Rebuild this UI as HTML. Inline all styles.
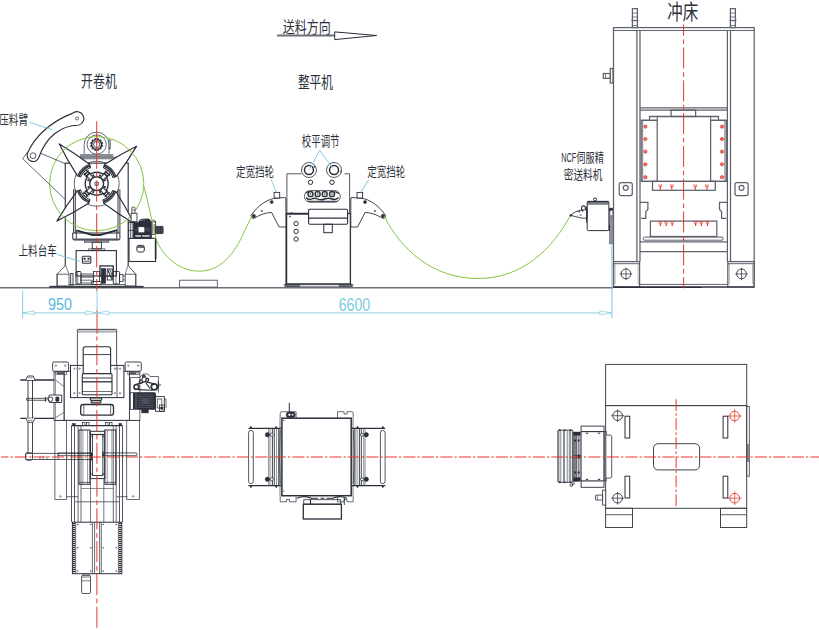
<!DOCTYPE html>
<html><head><meta charset="utf-8"><title>Feed line layout</title>
<style>html,body{margin:0;padding:0;background:#fff;font-family:"Liberation Sans",sans-serif}svg{display:block}</style>
</head><body>
<svg width="819" height="630" viewBox="0 0 819 630" style="display:block" fill="none" stroke-linecap="butt">
<rect width="819" height="630" fill="#fff"/>
<line x1="0.00" y1="287.80" x2="613.50" y2="287.80" stroke="#6b6f78" stroke-width="1.5" />
<rect x="49.50" y="286.00" width="94.00" height="1.60" rx="0" stroke="#2b2f3a" stroke-width="0.3" fill="#3d414b" />
<line x1="65.30" y1="163.10" x2="65.30" y2="266.00" stroke="#40454f" stroke-width="1.25" />
<line x1="128.20" y1="163.10" x2="128.20" y2="266.00" stroke="#40454f" stroke-width="1.25" />
<line x1="64.70" y1="163.10" x2="128.80" y2="163.10" stroke="#40454f" stroke-width="1.1" />
<path d="M65.30,265.70 L57.10,274.20 L57.10,286.00" stroke="#40454f" stroke-width="0.9" fill="none" />
<path d="M128.20,265.70 L135.80,274.20 L135.80,286.00" stroke="#40454f" stroke-width="0.9" fill="none" />
<rect x="57.10" y="274.20" width="11.90" height="11.80" rx="0" stroke="#40454f" stroke-width="0.8" fill="none" />
<rect x="125.20" y="274.20" width="10.60" height="11.80" rx="0" stroke="#40454f" stroke-width="0.8" fill="none" />
<line x1="65.80" y1="266.00" x2="69.00" y2="274.20" stroke="#40454f" stroke-width="0.7" />
<line x1="127.70" y1="266.00" x2="125.20" y2="274.20" stroke="#40454f" stroke-width="0.7" />
<path d="M84.2,154.3 V144.5 A12.4,12.4 0 0 1 109,144.5 V154.3" stroke="#40454f" stroke-width="0.8" fill="#fff" />
<rect x="109.00" y="140.00" width="1.60" height="9.00" rx="0" stroke="#40454f" stroke-width="0.6" fill="none" />
<circle cx="96.70" cy="144.50" r="9.60" stroke="#40454f" stroke-width="0.8" fill="none" />
<circle cx="96.60" cy="144.50" r="5.00" stroke="#2b2f3a" stroke-width="1.5" fill="none" />
<line x1="101.72" y1="145.87" x2="102.88" y2="146.18" stroke="#2b2f3a" stroke-width="1.7" />
<line x1="100.35" y1="148.25" x2="101.20" y2="149.10" stroke="#2b2f3a" stroke-width="1.7" />
<line x1="97.97" y1="149.62" x2="98.28" y2="150.78" stroke="#2b2f3a" stroke-width="1.7" />
<line x1="95.23" y1="149.62" x2="94.92" y2="150.78" stroke="#2b2f3a" stroke-width="1.7" />
<line x1="92.85" y1="148.25" x2="92.00" y2="149.10" stroke="#2b2f3a" stroke-width="1.7" />
<line x1="91.48" y1="145.87" x2="90.32" y2="146.18" stroke="#2b2f3a" stroke-width="1.7" />
<line x1="91.48" y1="143.13" x2="90.32" y2="142.82" stroke="#2b2f3a" stroke-width="1.7" />
<line x1="92.85" y1="140.75" x2="92.00" y2="139.90" stroke="#2b2f3a" stroke-width="1.7" />
<line x1="95.23" y1="139.38" x2="94.92" y2="138.22" stroke="#2b2f3a" stroke-width="1.7" />
<line x1="97.97" y1="139.38" x2="98.28" y2="138.22" stroke="#2b2f3a" stroke-width="1.7" />
<line x1="100.35" y1="140.75" x2="101.20" y2="139.90" stroke="#2b2f3a" stroke-width="1.7" />
<line x1="101.72" y1="143.13" x2="102.88" y2="142.82" stroke="#2b2f3a" stroke-width="1.7" />
<circle cx="96.60" cy="144.50" r="3.10" stroke="#2b2f3a" stroke-width="0.9" fill="none" />
<rect x="80.50" y="154.30" width="32.40" height="2.60" rx="0" stroke="#6f737c" stroke-width="0.5" fill="#8b8e96" />
<rect x="73.60" y="156.90" width="46.20" height="2.20" rx="0.8" stroke="#6f737c" stroke-width="0.5" fill="#8b8e96" />
<circle cx="96.70" cy="183.70" r="22.50" stroke="#40454f" stroke-width="0.8" fill="none" />
<circle cx="96.70" cy="183.70" r="11.50" stroke="#2b2f3a" stroke-width="1.4" fill="none" />
<circle cx="96.70" cy="183.70" r="6.90" stroke="#2b2f3a" stroke-width="1.4" fill="none" />
<circle cx="96.70" cy="183.70" r="2.00" stroke="#2b2f3a" stroke-width="0.8" fill="none" />
<circle cx="96.70" cy="183.70" r="0.70" stroke="#2b2f3a" stroke-width="0.5" fill="none" />
<rect x="103.73" y="186.17" width="2.2" height="1.8" fill="#2b2f3a" transform="rotate(22.5 104.83 187.07)"/>
<rect x="98.97" y="190.93" width="2.2" height="1.8" fill="#2b2f3a" transform="rotate(67.5 100.07 191.83)"/>
<rect x="92.23" y="190.93" width="2.2" height="1.8" fill="#2b2f3a" transform="rotate(112.5 93.33 191.83)"/>
<rect x="87.47" y="186.17" width="2.2" height="1.8" fill="#2b2f3a" transform="rotate(157.5 88.57 187.07)"/>
<rect x="87.47" y="179.43" width="2.2" height="1.8" fill="#2b2f3a" transform="rotate(202.5 88.57 180.33)"/>
<rect x="92.23" y="174.67" width="2.2" height="1.8" fill="#2b2f3a" transform="rotate(247.5 93.33 175.57)"/>
<rect x="98.97" y="174.67" width="2.2" height="1.8" fill="#2b2f3a" transform="rotate(292.5 100.07 175.57)"/>
<rect x="103.73" y="179.43" width="2.2" height="1.8" fill="#2b2f3a" transform="rotate(337.5 104.83 180.33)"/>
<g transform="rotate(0 96.7 183.7)">
<g transform="rotate(-44 96.7 183.7)">
<rect x="103.90" y="181.80" width="10.40" height="3.80" rx="0" stroke="#2b2f3a" stroke-width="1.0" fill="#fff" />
<line x1="109.30" y1="180.80" x2="109.30" y2="186.60" stroke="#2b2f3a" stroke-width="1.6" />
<line x1="111.70" y1="180.40" x2="111.70" y2="187.00" stroke="#2b2f3a" stroke-width="1.5" />
<rect x="108.70" y="180.70" width="1.4" height="1.4" fill="#2b2f3a"/><rect x="108.70" y="185.30" width="1.4" height="1.4" fill="#2b2f3a"/>
<path d="M115.61,175.28 Q133.70,178.90 151.29,184.46 Q133.66,189.27 115.61,192.12" stroke="#2b2f3a" stroke-width="1.2" fill="#fff" stroke-linejoin="round"/>
<path d="M112.72,176.90 A17.4,17.4 0 0 1 112.72,190.50 L115.61,192.12 A20.7,20.7 0 0 0 115.61,175.28 Z" stroke="#2b2f3a" stroke-width="1.0" fill="#fff" />
<path d="M114.24,175.89 A19.2,19.2 0 0 1 114.24,191.51" stroke="#2b2f3a" stroke-width="1.7" fill="none" />
</g></g>
<g transform="rotate(90 96.7 183.7)">
<g transform="rotate(-44 96.7 183.7)">
<rect x="103.90" y="181.80" width="10.40" height="3.80" rx="0" stroke="#2b2f3a" stroke-width="1.0" fill="#fff" />
<line x1="109.30" y1="180.80" x2="109.30" y2="186.60" stroke="#2b2f3a" stroke-width="1.6" />
<line x1="111.70" y1="180.40" x2="111.70" y2="187.00" stroke="#2b2f3a" stroke-width="1.5" />
<rect x="108.70" y="180.70" width="1.4" height="1.4" fill="#2b2f3a"/><rect x="108.70" y="185.30" width="1.4" height="1.4" fill="#2b2f3a"/>
<path d="M115.61,175.28 Q133.70,178.90 151.29,184.46 Q133.66,189.27 115.61,192.12" stroke="#2b2f3a" stroke-width="1.2" fill="#fff" stroke-linejoin="round"/>
<path d="M112.72,176.90 A17.4,17.4 0 0 1 112.72,190.50 L115.61,192.12 A20.7,20.7 0 0 0 115.61,175.28 Z" stroke="#2b2f3a" stroke-width="1.0" fill="#fff" />
<path d="M114.24,175.89 A19.2,19.2 0 0 1 114.24,191.51" stroke="#2b2f3a" stroke-width="1.7" fill="none" />
</g></g>
<g transform="rotate(180 96.7 183.7)">
<g transform="rotate(-44 96.7 183.7)">
<rect x="103.90" y="181.80" width="10.40" height="3.80" rx="0" stroke="#2b2f3a" stroke-width="1.0" fill="#fff" />
<line x1="109.30" y1="180.80" x2="109.30" y2="186.60" stroke="#2b2f3a" stroke-width="1.6" />
<line x1="111.70" y1="180.40" x2="111.70" y2="187.00" stroke="#2b2f3a" stroke-width="1.5" />
<rect x="108.70" y="180.70" width="1.4" height="1.4" fill="#2b2f3a"/><rect x="108.70" y="185.30" width="1.4" height="1.4" fill="#2b2f3a"/>
<path d="M115.61,175.28 Q133.70,178.90 151.29,184.46 Q133.66,189.27 115.61,192.12" stroke="#2b2f3a" stroke-width="1.2" fill="#fff" stroke-linejoin="round"/>
<path d="M112.72,176.90 A17.4,17.4 0 0 1 112.72,190.50 L115.61,192.12 A20.7,20.7 0 0 0 115.61,175.28 Z" stroke="#2b2f3a" stroke-width="1.0" fill="#fff" />
<path d="M114.24,175.89 A19.2,19.2 0 0 1 114.24,191.51" stroke="#2b2f3a" stroke-width="1.7" fill="none" />
</g></g>
<g transform="rotate(270 96.7 183.7)">
<g transform="rotate(-44 96.7 183.7)">
<rect x="103.90" y="181.80" width="10.40" height="3.80" rx="0" stroke="#2b2f3a" stroke-width="1.0" fill="#fff" />
<line x1="109.30" y1="180.80" x2="109.30" y2="186.60" stroke="#2b2f3a" stroke-width="1.6" />
<line x1="111.70" y1="180.40" x2="111.70" y2="187.00" stroke="#2b2f3a" stroke-width="1.5" />
<rect x="108.70" y="180.70" width="1.4" height="1.4" fill="#2b2f3a"/><rect x="108.70" y="185.30" width="1.4" height="1.4" fill="#2b2f3a"/>
<path d="M115.61,175.28 Q133.70,178.90 151.29,184.46 Q133.66,189.27 115.61,192.12" stroke="#2b2f3a" stroke-width="1.2" fill="#fff" stroke-linejoin="round"/>
<path d="M112.72,176.90 A17.4,17.4 0 0 1 112.72,190.50 L115.61,192.12 A20.7,20.7 0 0 0 115.61,175.28 Z" stroke="#2b2f3a" stroke-width="1.0" fill="#fff" />
<path d="M114.24,175.89 A19.2,19.2 0 0 1 114.24,191.51" stroke="#2b2f3a" stroke-width="1.7" fill="none" />
</g></g>
<line x1="73.60" y1="189.30" x2="73.60" y2="233.00" stroke="#2b2f3a" stroke-width="0.95" />
<line x1="75.30" y1="189.30" x2="75.30" y2="233.00" stroke="#2b2f3a" stroke-width="0.95" />
<line x1="118.00" y1="189.30" x2="118.00" y2="233.00" stroke="#2b2f3a" stroke-width="0.95" />
<line x1="119.90" y1="189.30" x2="119.90" y2="233.00" stroke="#2b2f3a" stroke-width="0.95" />
<path d="M76.30,230.40 L92.50,234.90 L100.10,234.90 L117.20,230.10" stroke="#2b2f3a" stroke-width="2.0" fill="none" stroke-linejoin="miter"/>
<path d="M72.7,233 V238.5 Q72.7,240 74.2,240 H118.4 Q119.9,240 119.9,238.5 V233 Z" stroke="#2b2f3a" stroke-width="1.0" fill="none" />
<line x1="73.00" y1="239.30" x2="119.60" y2="239.30" stroke="#50545e" stroke-width="1.4" />
<line x1="76.30" y1="231.00" x2="76.30" y2="238.60" stroke="#2b2f3a" stroke-width="0.9" />
<line x1="116.80" y1="231.00" x2="116.80" y2="238.60" stroke="#2b2f3a" stroke-width="0.9" />
<rect x="84.40" y="241.00" width="24.30" height="1.20" rx="0" stroke="#2b2f3a" stroke-width="0.7" fill="none" />
<rect x="92.20" y="242.20" width="9.20" height="6.70" rx="0" stroke="#2b2f3a" stroke-width="0.9" fill="none" />
<rect x="88.70" y="248.90" width="16.20" height="1.50" rx="0" stroke="#2b2f3a" stroke-width="0.7" fill="none" />
<rect x="76.10" y="250.60" width="40.30" height="25.40" rx="0" stroke="#2b2f3a" stroke-width="1.1" fill="none" />
<rect x="82.40" y="256.20" width="8.40" height="7.00" rx="1" stroke="#2b2f3a" stroke-width="1.1" fill="none" />
<rect x="83.90" y="258.00" width="1.50" height="1.50" rx="0" stroke="#2b2f3a" stroke-width="0.5" fill="#2b2f3a" />
<rect x="87.80" y="258.00" width="1.50" height="1.50" rx="0" stroke="#2b2f3a" stroke-width="0.5" fill="#2b2f3a" />
<line x1="83.40" y1="261.20" x2="89.80" y2="261.20" stroke="#2b2f3a" stroke-width="0.8" />
<line x1="69.00" y1="284.60" x2="125.20" y2="284.60" stroke="#2b2f3a" stroke-width="0.8" />
<rect x="70.70" y="273.50" width="2.30" height="11.50" rx="0" stroke="#2b2f3a" stroke-width="0.9" fill="none" />
<rect x="76.00" y="271.50" width="5.00" height="12.50" rx="1" stroke="#2b2f3a" stroke-width="1.0" fill="none" />
<line x1="77.70" y1="271.50" x2="77.70" y2="284.00" stroke="#2b2f3a" stroke-width="0.6" />
<rect x="81.00" y="274.00" width="12.50" height="9.00" rx="0" stroke="#2b2f3a" stroke-width="0.8" fill="none" />
<line x1="81.00" y1="277.20" x2="93.50" y2="277.20" stroke="#2b2f3a" stroke-width="0.7" />
<line x1="81.00" y1="280.20" x2="93.50" y2="280.20" stroke="#2b2f3a" stroke-width="0.7" />
<rect x="93.50" y="271.50" width="6.00" height="10.00" rx="0" stroke="#2b2f3a" stroke-width="0.8" fill="none" />
<rect x="91.50" y="281.50" width="9.50" height="3.10" rx="0" stroke="#2b2f3a" stroke-width="0.7" fill="none" />
<rect x="100.00" y="265.90" width="13.30" height="10.10" rx="0" stroke="#2b2f3a" stroke-width="1.3" fill="#fff" />
<rect x="101.40" y="268.50" width="4.20" height="14.80" rx="0" stroke="#2b2f3a" stroke-width="0.6" fill="#2b2f3a" />
<rect x="107.20" y="269.00" width="5.10" height="11.00" rx="0" stroke="#2b2f3a" stroke-width="0.9" fill="none" />
<line x1="107.60" y1="269.50" x2="112.00" y2="279.50" stroke="#2b2f3a" stroke-width="1.1" />
<line x1="109.50" y1="269.30" x2="112.20" y2="275.00" stroke="#2b2f3a" stroke-width="0.8" />
<rect x="113.30" y="271.50" width="6.30" height="12.50" rx="1" stroke="#2b2f3a" stroke-width="1.0" fill="none" />
<line x1="116.00" y1="271.50" x2="116.00" y2="284.00" stroke="#2b2f3a" stroke-width="0.6" />
<rect x="119.60" y="274.50" width="3.40" height="7.00" rx="0" stroke="#2b2f3a" stroke-width="0.8" fill="none" />
<line x1="123.00" y1="276.00" x2="125.20" y2="276.00" stroke="#2b2f3a" stroke-width="0.7" />
<line x1="123.00" y1="280.00" x2="125.20" y2="280.00" stroke="#2b2f3a" stroke-width="0.7" />
<circle cx="96.70" cy="183.70" r="47.10" stroke="#86c540" stroke-width="1.0" fill="none" />
<path d="M39.60,152.80 L65.00,163.60" stroke="#40454f" stroke-width="0.8" fill="none" />
<path d="M28.20,151.20 L22.70,158.70 L65.00,199.20" stroke="#40454f" stroke-width="0.8" fill="none" />
<path d="M27.5,153.4 C34,137 51,121.5 72.3,113.4 A6.9,6.9 0 1 1 78.2,125.3 C61.5,125.5 46,136 38.8,157.6 A5.9,5.9 0 0 1 27.5,153.4 Z" stroke="#2b2f3a" stroke-width="1.15" fill="#fff" />
<circle cx="33.00" cy="155.70" r="2.90" stroke="#2b2f3a" stroke-width="0.8" fill="none" />
<circle cx="77.00" cy="118.50" r="1.50" stroke="#2b2f3a" stroke-width="0.7" fill="none" />
<rect x="129.00" y="238.30" width="26.60" height="23.20" rx="0" stroke="#2b2f3a" stroke-width="1.1" fill="#fff" />
<rect x="136.90" y="245.40" width="7.40" height="6.60" rx="1.8" stroke="#2b2f3a" stroke-width="1.0" fill="none" />
<line x1="137.20" y1="247.00" x2="144.00" y2="247.00" stroke="#2b2f3a" stroke-width="1.4" />
<line x1="155.60" y1="240.00" x2="155.60" y2="259.00" stroke="#2b2f3a" stroke-width="1.6" />
<rect x="128.60" y="222.50" width="5.20" height="15.80" rx="0" stroke="#2b2f3a" stroke-width="0.9" fill="#fff" />
<line x1="130.40" y1="222.50" x2="130.40" y2="238.30" stroke="#2b2f3a" stroke-width="0.7" />
<line x1="132.20" y1="222.50" x2="132.20" y2="238.30" stroke="#2b2f3a" stroke-width="0.7" />
<line x1="128.60" y1="230.50" x2="133.80" y2="230.50" stroke="#2b2f3a" stroke-width="0.7" />
<rect x="133.80" y="222.50" width="17.50" height="11.40" rx="0" stroke="#2b2f3a" stroke-width="0.8" fill="#2b2f3a" />
<rect x="138.80" y="227.10" width="5.30" height="5.00" rx="0" stroke="#fff" stroke-width="0.3" fill="#fff" />
<line x1="135.00" y1="228.30" x2="138.00" y2="228.30" stroke="#7a7e88" stroke-width="0.35" />
<line x1="145.00" y1="228.30" x2="150.30" y2="228.30" stroke="#7a7e88" stroke-width="0.35" />
<line x1="135.00" y1="229.60" x2="138.00" y2="229.60" stroke="#7a7e88" stroke-width="0.35" />
<line x1="145.00" y1="229.60" x2="150.30" y2="229.60" stroke="#7a7e88" stroke-width="0.35" />
<line x1="135.00" y1="230.90" x2="138.00" y2="230.90" stroke="#7a7e88" stroke-width="0.35" />
<line x1="145.00" y1="230.90" x2="150.30" y2="230.90" stroke="#7a7e88" stroke-width="0.35" />
<rect x="133.80" y="233.90" width="17.50" height="4.30" rx="0" stroke="#2b2f3a" stroke-width="0.9" fill="#2b2f3a" />
<rect x="135.50" y="235.30" width="5.50" height="1.30" rx="0" stroke="#fff" stroke-width="0.2" fill="#d8d9dc" />
<rect x="142.50" y="235.30" width="7.00" height="1.30" rx="0" stroke="#fff" stroke-width="0.2" fill="#d8d9dc" />
<path d="M138.4,222.5 Q139.5,219 143,219 H148.5 Q150.6,219.4 150.6,222.5 Z" stroke="#2b2f3a" stroke-width="0.8" fill="#2b2f3a" />
<line x1="140.00" y1="220.60" x2="145.00" y2="219.60" stroke="#ccc" stroke-width="0.5" />
<rect x="151.30" y="221.50" width="4.30" height="12.80" rx="0" stroke="#2b2f3a" stroke-width="0.9" fill="#fff" />
<circle cx="153.50" cy="221.20" r="1.10" stroke="#2b2f3a" stroke-width="0.8" fill="#fff" />
<line x1="152.60" y1="224.00" x2="152.60" y2="233.50" stroke="#2b2f3a" stroke-width="0.6" />
<line x1="154.20" y1="224.00" x2="154.20" y2="233.50" stroke="#2b2f3a" stroke-width="0.6" />
<rect x="155.60" y="226.40" width="7.50" height="7.20" rx="0.8" stroke="#2b2f3a" stroke-width="0.9" fill="#50545e" />
<line x1="157.30" y1="226.60" x2="157.30" y2="233.40" stroke="#2b2f3a" stroke-width="0.7" />
<line x1="158.90" y1="226.60" x2="158.90" y2="233.40" stroke="#2b2f3a" stroke-width="0.7" />
<line x1="160.50" y1="226.60" x2="160.50" y2="233.40" stroke="#2b2f3a" stroke-width="0.7" />
<line x1="161.90" y1="226.60" x2="161.90" y2="233.40" stroke="#2b2f3a" stroke-width="0.7" />
<rect x="131.10" y="213.20" width="5.90" height="8.40" rx="0" stroke="#2b2f3a" stroke-width="0.8" fill="#fff" />
<rect x="131.80" y="207.10" width="3.20" height="6.10" rx="0.8" stroke="#2b2f3a" stroke-width="0.8" fill="#fff" />
<line x1="132.20" y1="210.00" x2="134.60" y2="210.00" stroke="#2b2f3a" stroke-width="0.7" />
<rect x="77.40" y="329.40" width="39.20" height="2.70" rx="0.8" stroke="#40454f" stroke-width="0.5" fill="#cfd0d3" />
<path d="M77.4,365.4 V330.4 Q77.4,329.4 78.4,329.4 H115.6 Q116.6,329.4 116.6,330.4 V365.4" stroke="#40454f" stroke-width="0.9" fill="none" />
<rect x="64.00" y="371.50" width="65.40" height="48.90" rx="0" stroke="#40454f" stroke-width="0.9" fill="none" />
<rect x="70.50" y="365.40" width="53.40" height="32.20" rx="0" stroke="#2b2f3a" stroke-width="1.0" fill="#fff" />
<line x1="77.40" y1="365.40" x2="77.40" y2="397.60" stroke="#2b2f3a" stroke-width="0.8" />
<line x1="117.00" y1="365.40" x2="117.00" y2="397.60" stroke="#2b2f3a" stroke-width="0.8" />
<circle cx="74.40" cy="368.70" r="0.75" stroke="#2b2f3a" stroke-width="0.5" fill="#fff" />
<circle cx="77.40" cy="368.70" r="0.75" stroke="#2b2f3a" stroke-width="0.5" fill="#fff" />
<circle cx="79.60" cy="368.70" r="0.75" stroke="#2b2f3a" stroke-width="0.5" fill="#fff" />
<circle cx="74.40" cy="393.20" r="0.75" stroke="#2b2f3a" stroke-width="0.5" fill="#fff" />
<circle cx="79.60" cy="393.20" r="0.75" stroke="#2b2f3a" stroke-width="0.5" fill="#fff" />
<circle cx="114.80" cy="368.70" r="0.75" stroke="#2b2f3a" stroke-width="0.5" fill="#fff" />
<circle cx="117.00" cy="368.70" r="0.75" stroke="#2b2f3a" stroke-width="0.5" fill="#fff" />
<circle cx="120.00" cy="368.70" r="0.75" stroke="#2b2f3a" stroke-width="0.5" fill="#fff" />
<circle cx="114.80" cy="393.20" r="0.75" stroke="#2b2f3a" stroke-width="0.5" fill="#fff" />
<circle cx="120.00" cy="393.20" r="0.75" stroke="#2b2f3a" stroke-width="0.5" fill="#fff" />
<path d="M83.2,373.6 V349 Q83.2,346.8 85.4,346.8 H108.4 Q110.6,346.8 110.6,349 V373.6" stroke="#2b2f3a" stroke-width="1.1" fill="#fff" />
<line x1="83.20" y1="354.60" x2="110.60" y2="354.60" stroke="#2b2f3a" stroke-width="0.9" />
<rect x="82.30" y="373.60" width="29.70" height="21.10" rx="1" stroke="#2b2f3a" stroke-width="1.1" fill="#fff" />
<line x1="82.30" y1="378.00" x2="112.00" y2="378.00" stroke="#2b2f3a" stroke-width="0.9" />
<line x1="82.30" y1="381.80" x2="112.00" y2="381.80" stroke="#2b2f3a" stroke-width="1.3" />
<line x1="82.30" y1="391.50" x2="112.00" y2="391.50" stroke="#2b2f3a" stroke-width="0.7" />
<rect x="52.60" y="362.00" width="16.00" height="9.30" rx="1.5" stroke="#2b2f3a" stroke-width="0.9" fill="none" />
<circle cx="55.80" cy="365.60" r="0.80" stroke="#2b2f3a" stroke-width="0.5" fill="#fff" />
<circle cx="65.40" cy="365.60" r="0.80" stroke="#2b2f3a" stroke-width="0.5" fill="#fff" />
<rect x="55.20" y="371.30" width="11.20" height="3.30" rx="0" stroke="#40454f" stroke-width="0.7" fill="none" />
<line x1="56.90" y1="373.20" x2="63.70" y2="373.20" stroke="#2b2f3a" stroke-width="1.3" />
<rect x="125.20" y="362.00" width="16.10" height="9.30" rx="1.5" stroke="#2b2f3a" stroke-width="0.9" fill="none" />
<circle cx="128.40" cy="365.60" r="0.80" stroke="#2b2f3a" stroke-width="0.5" fill="#fff" />
<circle cx="138.10" cy="365.60" r="0.80" stroke="#2b2f3a" stroke-width="0.5" fill="#fff" />
<rect x="127.80" y="371.30" width="11.30" height="3.30" rx="0" stroke="#40454f" stroke-width="0.7" fill="none" />
<line x1="129.50" y1="373.20" x2="136.40" y2="373.20" stroke="#2b2f3a" stroke-width="1.3" />
<rect x="90.20" y="398.00" width="11.60" height="2.20" rx="1" stroke="#2b2f3a" stroke-width="1.1" fill="none" />
<rect x="91.20" y="400.60" width="9.60" height="2.30" rx="1" stroke="#2b2f3a" stroke-width="1.1" fill="none" />
<line x1="93.00" y1="397.60" x2="93.00" y2="398.00" stroke="#2b2f3a" stroke-width="0.8" />
<rect x="80.70" y="404.50" width="32.80" height="10.70" rx="2.5" stroke="#2b2f3a" stroke-width="1.3" fill="none" />
<line x1="83.80" y1="405.00" x2="83.80" y2="414.70" stroke="#2b2f3a" stroke-width="0.7" />
<line x1="110.60" y1="405.00" x2="110.60" y2="414.70" stroke="#2b2f3a" stroke-width="0.7" />
<rect x="54.00" y="372.20" width="10.30" height="48.20" rx="0" stroke="#40454f" stroke-width="0.8" fill="none" />
<line x1="55.40" y1="374.60" x2="55.40" y2="420.40" stroke="#40454f" stroke-width="0.6" />
<path d="M55.40,380.00 L64.30,386.90" stroke="#40454f" stroke-width="0.7" fill="none" />
<path d="M55.40,418.00 L62.70,413.00 L64.30,413.00" stroke="#40454f" stroke-width="0.7" fill="none" />
<rect x="129.50" y="372.20" width="10.40" height="48.20" rx="0" stroke="#40454f" stroke-width="0.8" fill="none" />
<rect x="54.90" y="420.40" width="11.50" height="79.00" rx="0" stroke="#40454f" stroke-width="0.8" fill="none" />
<rect x="126.70" y="420.40" width="12.70" height="79.00" rx="0" stroke="#40454f" stroke-width="0.8" fill="none" />
<line x1="54.20" y1="420.40" x2="139.70" y2="420.40" stroke="#40454f" stroke-width="0.9" />
<circle cx="60.40" cy="496.40" r="0.80" stroke="#2b2f3a" stroke-width="0.5" fill="none" />
<circle cx="133.20" cy="496.40" r="0.80" stroke="#2b2f3a" stroke-width="0.5" fill="none" />
<line x1="71.50" y1="425.60" x2="71.50" y2="522.00" stroke="#2b2f3a" stroke-width="0.8" />
<line x1="74.50" y1="425.60" x2="74.50" y2="522.00" stroke="#2b2f3a" stroke-width="0.8" />
<line x1="119.50" y1="425.60" x2="119.50" y2="522.00" stroke="#2b2f3a" stroke-width="0.8" />
<line x1="122.50" y1="425.60" x2="122.50" y2="522.00" stroke="#2b2f3a" stroke-width="0.8" />
<line x1="78.10" y1="425.60" x2="78.10" y2="522.00" stroke="#40454f" stroke-width="0.8" />
<line x1="81.00" y1="425.60" x2="81.00" y2="522.00" stroke="#40454f" stroke-width="0.8" />
<line x1="113.30" y1="425.60" x2="113.30" y2="522.00" stroke="#40454f" stroke-width="0.8" />
<line x1="116.20" y1="425.60" x2="116.20" y2="522.00" stroke="#40454f" stroke-width="0.8" />
<line x1="71.50" y1="425.60" x2="122.50" y2="425.60" stroke="#2b2f3a" stroke-width="1.2" />
<rect x="72.60" y="423.40" width="2.60" height="2.20" rx="0" stroke="#2b2f3a" stroke-width="0.5" fill="#2b2f3a" />
<rect x="119.00" y="423.40" width="2.60" height="2.20" rx="0" stroke="#2b2f3a" stroke-width="0.5" fill="#2b2f3a" />
<rect x="82.50" y="422.60" width="2.50" height="3.00" rx="0" stroke="#2b2f3a" stroke-width="0.7" fill="none" />
<rect x="86.50" y="422.60" width="2.50" height="3.00" rx="0" stroke="#2b2f3a" stroke-width="0.7" fill="none" />
<rect x="105.50" y="422.60" width="2.50" height="3.00" rx="0" stroke="#2b2f3a" stroke-width="0.7" fill="none" />
<rect x="109.50" y="422.60" width="2.50" height="3.00" rx="0" stroke="#2b2f3a" stroke-width="0.7" fill="none" />
<rect x="79.00" y="430.00" width="10.90" height="54.30" rx="0" stroke="#2b2f3a" stroke-width="1.0" fill="none" />
<rect x="104.80" y="430.00" width="11.00" height="54.30" rx="0" stroke="#2b2f3a" stroke-width="1.0" fill="none" />
<line x1="82.90" y1="430.00" x2="82.90" y2="484.30" stroke="#40454f" stroke-width="0.55" />
<line x1="87.60" y1="430.00" x2="87.60" y2="484.30" stroke="#40454f" stroke-width="0.55" />
<line x1="107.20" y1="430.00" x2="107.20" y2="484.30" stroke="#40454f" stroke-width="0.55" />
<line x1="111.90" y1="430.00" x2="111.90" y2="484.30" stroke="#40454f" stroke-width="0.55" />
<line x1="79.00" y1="482.40" x2="89.90" y2="482.40" stroke="#2b2f3a" stroke-width="0.7" />
<line x1="104.80" y1="482.40" x2="115.80" y2="482.40" stroke="#2b2f3a" stroke-width="0.7" />
<rect x="90.50" y="431.30" width="14.30" height="47.30" rx="0" stroke="#2b2f3a" stroke-width="1.0" fill="none" />
<rect x="92.40" y="434.50" width="10.50" height="41.00" rx="0" stroke="#2b2f3a" stroke-width="0.9" fill="none" />
<line x1="90.50" y1="434.50" x2="104.80" y2="434.50" stroke="#2b2f3a" stroke-width="1.2" />
<rect x="91.6" y="435.7" width="1.4" height="1.6" fill="#2b2f3a"/><rect x="102.3" y="435.7" width="1.4" height="1.6" fill="#2b2f3a"/>
<rect x="91.6" y="454.2" width="1.4" height="1.6" fill="#2b2f3a"/><rect x="102.3" y="454.2" width="1.4" height="1.6" fill="#2b2f3a"/>
<rect x="91.6" y="473.2" width="1.4" height="1.6" fill="#2b2f3a"/><rect x="102.3" y="473.2" width="1.4" height="1.6" fill="#2b2f3a"/>
<line x1="90.50" y1="478.60" x2="90.50" y2="522.00" stroke="#40454f" stroke-width="0.7" />
<line x1="103.80" y1="478.60" x2="103.80" y2="522.00" stroke="#40454f" stroke-width="0.7" />
<line x1="66.70" y1="496.70" x2="78.10" y2="496.70" stroke="#40454f" stroke-width="0.8" />
<line x1="116.20" y1="496.70" x2="127.60" y2="496.70" stroke="#40454f" stroke-width="0.8" />
<line x1="75.20" y1="501.80" x2="119.00" y2="501.80" stroke="#40454f" stroke-width="0.8" />
<line x1="81.00" y1="488.50" x2="113.30" y2="488.50" stroke="#40454f" stroke-width="0.6" />
<line x1="20.30" y1="380.00" x2="54.20" y2="380.00" stroke="#2b2f3a" stroke-width="1.3" />
<line x1="20.30" y1="418.30" x2="54.20" y2="418.30" stroke="#2b2f3a" stroke-width="1.3" />
<path d="M25.80,380.00 L27.60,376.00 L33.20,376.00 L35.00,380.00" stroke="#2b2f3a" stroke-width="0.9" fill="#fff" />
<line x1="28.00" y1="377.80" x2="32.50" y2="377.80" stroke="#40454f" stroke-width="0.6" />
<path d="M25.80,418.30 L27.80,422.30 L33.00,422.30 L35.00,418.30" stroke="#2b2f3a" stroke-width="0.9" fill="#fff" />
<line x1="28.00" y1="420.40" x2="32.50" y2="420.40" stroke="#40454f" stroke-width="0.6" />
<line x1="28.00" y1="380.00" x2="28.00" y2="418.30" stroke="#2b2f3a" stroke-width="0.9" />
<line x1="32.50" y1="380.00" x2="32.50" y2="418.30" stroke="#2b2f3a" stroke-width="0.9" />
<line x1="28.00" y1="422.30" x2="28.00" y2="453.40" stroke="#2b2f3a" stroke-width="0.9" />
<line x1="32.50" y1="422.30" x2="32.50" y2="453.40" stroke="#2b2f3a" stroke-width="0.9" />
<rect x="26.70" y="398.30" width="19.10" height="1.90" rx="0" stroke="#2b2f3a" stroke-width="0.8" fill="none" />
<path d="M47.5,398.7 L49.5,395 H61.7 V402.5 H49.5 Z" stroke="#2b2f3a" stroke-width="0.9" fill="#fff" />
<circle cx="50.60" cy="399.20" r="2.20" stroke="#2b2f3a" stroke-width="0.9" fill="none" />
<rect x="55.70" y="397.00" width="3.30" height="4.40" rx="0.8" stroke="#2b2f3a" stroke-width="0.6" fill="#2b2f3a" />
<line x1="45.60" y1="397.00" x2="45.60" y2="401.40" stroke="#2b2f3a" stroke-width="1.2" />
<rect x="25.60" y="453.40" width="65.80" height="6.10" rx="1" stroke="#2b2f3a" stroke-width="0.8" fill="none" />
<rect x="25.60" y="452.80" width="6.90" height="7.40" rx="1.8" stroke="#2b2f3a" stroke-width="0.9" fill="none" />
<line x1="40.00" y1="455.80" x2="40.00" y2="459.50" stroke="#2b2f3a" stroke-width="0.6" />
<line x1="43.00" y1="455.80" x2="43.00" y2="459.50" stroke="#2b2f3a" stroke-width="0.6" />
<line x1="47.00" y1="455.80" x2="47.00" y2="459.50" stroke="#2b2f3a" stroke-width="0.6" />
<line x1="58.10" y1="453.40" x2="58.10" y2="459.50" stroke="#2b2f3a" stroke-width="0.7" />
<line x1="91.40" y1="452.50" x2="91.40" y2="460.50" stroke="#2b2f3a" stroke-width="1.1" />
<rect x="58.10" y="452.90" width="33.30" height="2.80" rx="0" stroke="#2b2f3a" stroke-width="0.7" fill="none" />
<rect x="102.90" y="452.90" width="34.20" height="2.80" rx="1.2" stroke="#2b2f3a" stroke-width="0.8" fill="none" />
<line x1="102.90" y1="451.00" x2="102.90" y2="457.50" stroke="#2b2f3a" stroke-width="1.0" />
<rect x="130.30" y="392.70" width="3.30" height="16.60" rx="0" stroke="#2b2f3a" stroke-width="0.8" fill="#fff" />
<rect x="133.60" y="392.70" width="21.90" height="16.60" rx="1" stroke="#2b2f3a" stroke-width="0.9" fill="#2b2f3a" />
<line x1="137.50" y1="394.80" x2="153.50" y2="394.80" stroke="#8a8d95" stroke-width="0.35" />
<line x1="137.50" y1="396.60" x2="153.50" y2="396.60" stroke="#8a8d95" stroke-width="0.35" />
<line x1="137.50" y1="398.40" x2="153.50" y2="398.40" stroke="#8a8d95" stroke-width="0.35" />
<line x1="137.50" y1="400.20" x2="153.50" y2="400.20" stroke="#8a8d95" stroke-width="0.35" />
<line x1="137.50" y1="402.00" x2="153.50" y2="402.00" stroke="#8a8d95" stroke-width="0.35" />
<line x1="137.50" y1="403.80" x2="153.50" y2="403.80" stroke="#8a8d95" stroke-width="0.35" />
<line x1="137.50" y1="405.60" x2="153.50" y2="405.60" stroke="#8a8d95" stroke-width="0.35" />
<line x1="137.50" y1="407.40" x2="153.50" y2="407.40" stroke="#8a8d95" stroke-width="0.35" />
<rect x="142.50" y="398.60" width="6.00" height="5.20" rx="0" stroke="#555a64" stroke-width="0.4" fill="#4a4f59" />
<line x1="136.00" y1="393.00" x2="136.00" y2="409.00" stroke="#aaa" stroke-width="0.5" />
<rect x="141.80" y="409.30" width="6.40" height="3.50" rx="0" stroke="#2b2f3a" stroke-width="0.8" fill="#2b2f3a" />
<rect x="155.50" y="396.60" width="8.80" height="14.70" rx="0" stroke="#2b2f3a" stroke-width="0.9" fill="#fff" />
<rect x="157.20" y="399.00" width="4.60" height="9.00" rx="0" stroke="#2b2f3a" stroke-width="0.7" fill="none" />
<rect x="159.50" y="405.00" width="4.80" height="6.30" rx="0" stroke="#2b2f3a" stroke-width="0.8" fill="none" />
<rect x="160.80" y="407.00" width="2.20" height="2.30" rx="0" stroke="#2b2f3a" stroke-width="0.5" fill="#2b2f3a" />
<line x1="164.30" y1="399.00" x2="166.00" y2="399.00" stroke="#2b2f3a" stroke-width="0.7" />
<line x1="166.00" y1="399.00" x2="166.00" y2="408.00" stroke="#2b2f3a" stroke-width="0.7" />
<path d="M130.3,392.7 V377.5 H140 L143,374 H148 L150,376.5 H158.4 V392.7" stroke="#40454f" stroke-width="0.8" fill="none" />
<circle cx="136.40" cy="386.90" r="2.40" stroke="#2b2f3a" stroke-width="1.6" fill="none" />
<circle cx="154.30" cy="386.90" r="3.00" stroke="#2b2f3a" stroke-width="1.7" fill="none" />
<circle cx="141.00" cy="381.50" r="1.60" stroke="#2b2f3a" stroke-width="1.3" fill="none" />
<circle cx="147.20" cy="379.80" r="1.50" stroke="#2b2f3a" stroke-width="1.3" fill="none" />
<circle cx="143.80" cy="376.20" r="1.20" stroke="#2b2f3a" stroke-width="1.1" fill="none" />
<path d="M136.40,384.30 L145.00,381.60 L154.30,383.80" stroke="#2b2f3a" stroke-width="1.3" fill="none" />
<path d="M138.00,389.60 L152.50,390.30" stroke="#2b2f3a" stroke-width="1.1" fill="none" />
<path d="M141.50,380.00 L144.00,375.00 L146.80,378.50" stroke="#2b2f3a" stroke-width="1.0" fill="none" />
<path d="M146.00,383.00 L150.00,388.50" stroke="#2b2f3a" stroke-width="1.2" fill="none" />
<line x1="158.40" y1="381.00" x2="158.40" y2="388.50" stroke="#2b2f3a" stroke-width="1.0" />
<circle cx="159.60" cy="385.00" r="0.90" stroke="#2b2f3a" stroke-width="0.6" fill="none" />
<rect x="72.40" y="522.20" width="49.40" height="51.50" rx="0" stroke="#2b2f3a" stroke-width="1.0" fill="#fff" />
<line x1="74.0" y1="523" x2="74.0" y2="573" stroke="#2b2f3a" stroke-width="2.4" stroke-dasharray="1.3 0.7"/>
<line x1="120.2" y1="523" x2="120.2" y2="573" stroke="#2b2f3a" stroke-width="2.4" stroke-dasharray="1.3 0.7"/>
<line x1="75.70" y1="522.20" x2="75.70" y2="573.70" stroke="#40454f" stroke-width="0.8" />
<line x1="92.40" y1="522.20" x2="92.40" y2="573.70" stroke="#40454f" stroke-width="0.8" />
<line x1="94.60" y1="522.20" x2="94.60" y2="573.70" stroke="#40454f" stroke-width="0.8" />
<line x1="99.60" y1="522.20" x2="99.60" y2="573.70" stroke="#40454f" stroke-width="0.8" />
<line x1="101.30" y1="522.20" x2="101.30" y2="573.70" stroke="#40454f" stroke-width="0.8" />
<line x1="118.40" y1="522.20" x2="118.40" y2="573.70" stroke="#40454f" stroke-width="0.8" />
<circle cx="77.80" cy="524.50" r="0.50" stroke="#2b2f3a" stroke-width="0.3" fill="#2b2f3a" />
<circle cx="90.80" cy="524.50" r="0.50" stroke="#2b2f3a" stroke-width="0.3" fill="#2b2f3a" />
<circle cx="103.20" cy="524.50" r="0.50" stroke="#2b2f3a" stroke-width="0.3" fill="#2b2f3a" />
<circle cx="116.20" cy="524.50" r="0.50" stroke="#2b2f3a" stroke-width="0.3" fill="#2b2f3a" />
<circle cx="77.80" cy="547.80" r="0.50" stroke="#2b2f3a" stroke-width="0.3" fill="#2b2f3a" />
<circle cx="90.80" cy="547.80" r="0.50" stroke="#2b2f3a" stroke-width="0.3" fill="#2b2f3a" />
<circle cx="103.20" cy="547.80" r="0.50" stroke="#2b2f3a" stroke-width="0.3" fill="#2b2f3a" />
<circle cx="116.20" cy="547.80" r="0.50" stroke="#2b2f3a" stroke-width="0.3" fill="#2b2f3a" />
<circle cx="77.80" cy="571.00" r="0.50" stroke="#2b2f3a" stroke-width="0.3" fill="#2b2f3a" />
<circle cx="90.80" cy="571.00" r="0.50" stroke="#2b2f3a" stroke-width="0.3" fill="#2b2f3a" />
<circle cx="103.20" cy="571.00" r="0.50" stroke="#2b2f3a" stroke-width="0.3" fill="#2b2f3a" />
<circle cx="116.20" cy="571.00" r="0.50" stroke="#2b2f3a" stroke-width="0.3" fill="#2b2f3a" />
<rect x="81.60" y="575.20" width="8.90" height="18.30" rx="1.2" stroke="#40454f" stroke-width="0.9" fill="none" />
<line x1="81.60" y1="577.00" x2="90.50" y2="577.00" stroke="#40454f" stroke-width="0.7" />
<line x1="81.60" y1="580.80" x2="90.50" y2="580.80" stroke="#40454f" stroke-width="0.7" />
<rect x="83.00" y="573.70" width="6.00" height="1.50" rx="0" stroke="#40454f" stroke-width="0.6" fill="none" />
<line x1="96.90" y1="344.40" x2="96.90" y2="630.00" stroke="#e8362b" stroke-width="1.0" stroke-dasharray="21 3.7 4.7 3.4"/>
<line x1="96.90" y1="336.40" x2="96.90" y2="340.60" stroke="#e8362b" stroke-width="1.0" />
<line x1="96.70" y1="121.30" x2="96.70" y2="290.70" stroke="#e8362b" stroke-width="1.0" stroke-dasharray="21 3.7 4.7 3.4" stroke-dashoffset="6.3"/>
<line x1="96.70" y1="134.00" x2="96.70" y2="149.00" stroke="#e8362b" stroke-width="1.0" />
<line x1="97.00" y1="310.20" x2="97.00" y2="333.70" stroke="#e8362b" stroke-width="1.0" />
<path d="M280.2,418 V413.5 Q280.2,411.7 282,411.7 H296.1 V418" stroke="#40454f" stroke-width="0.8" fill="none" />
<path d="M337.5,418 V411.7 H344 V414 H347 V411.7 H351.5 Q353.2,411.7 353.2,413.5 V418" stroke="#40454f" stroke-width="0.8" fill="none" />
<path d="M280.2,496.8 V501.8 H286.5 V499.5 H289.5 V501.8 H296.1 V496.8" stroke="#40454f" stroke-width="0.8" fill="none" />
<path d="M337.5,496.8 V501.8 H344 V499.5 H347 V501.8 H353.2 V496.8" stroke="#40454f" stroke-width="0.8" fill="none" />
<line x1="289.30" y1="402.80" x2="289.30" y2="412.00" stroke="#2b2f3a" stroke-width="1.0" />
<rect x="286.20" y="412.10" width="9.00" height="5.40" rx="2.6" stroke="#2b2f3a" stroke-width="0.6" fill="#2b2f3a" />
<circle cx="289.40" cy="414.70" r="1.00" stroke="#fff" stroke-width="0.3" fill="#fff" />
<circle cx="292.60" cy="414.70" r="0.80" stroke="#fff" stroke-width="0.3" fill="#fff" />
<rect x="281.90" y="418.20" width="69.30" height="77.50" rx="0" stroke="#2b2f3a" stroke-width="1.5" fill="#fff" />
<line x1="280.00" y1="418.00" x2="280.00" y2="496.80" stroke="#40454f" stroke-width="0.7" />
<line x1="353.00" y1="418.00" x2="353.00" y2="496.80" stroke="#40454f" stroke-width="0.7" />
<rect x="283.2" y="420" width="1" height="1" fill="#2b2f3a"/>
<rect x="283.2" y="490.6" width="1" height="1" fill="#2b2f3a"/>
<line x1="248.40" y1="428.30" x2="281.70" y2="428.30" stroke="#2b2f3a" stroke-width="1.3" />
<line x1="248.40" y1="485.70" x2="281.70" y2="485.70" stroke="#2b2f3a" stroke-width="1.3" />
<rect x="248.60" y="430.40" width="4.70" height="53.20" rx="2.3" stroke="#2b2f3a" stroke-width="0.8" fill="none" />
<path d="M250.00,428.30 L250.90,426.20 L251.80,428.30 Z" stroke="#2b2f3a" stroke-width="0.7" fill="#2b2f3a" />
<path d="M250.00,485.70 L250.90,487.80 L251.80,485.70 Z" stroke="#2b2f3a" stroke-width="0.7" fill="#2b2f3a" />
<path d="M275.30,428.30 L276.20,426.20 L277.10,428.30 Z" stroke="#2b2f3a" stroke-width="0.7" fill="#2b2f3a" />
<path d="M275.30,485.70 L276.20,487.80 L277.10,485.70 Z" stroke="#2b2f3a" stroke-width="0.7" fill="#2b2f3a" />
<line x1="268.60" y1="428.30" x2="268.60" y2="485.70" stroke="#40454f" stroke-width="0.6" />
<line x1="270.00" y1="428.30" x2="270.00" y2="485.70" stroke="#40454f" stroke-width="0.6" />
<line x1="272.40" y1="428.30" x2="272.40" y2="485.70" stroke="#2b2f3a" stroke-width="0.9" />
<line x1="274.30" y1="428.30" x2="274.30" y2="485.70" stroke="#2b2f3a" stroke-width="0.9" />
<line x1="276.60" y1="428.30" x2="276.60" y2="485.70" stroke="#40454f" stroke-width="0.6" />
<line x1="278.80" y1="428.30" x2="278.80" y2="485.70" stroke="#2b2f3a" stroke-width="1.0" />
<path d="M280.30,430 Q279.00,457 280.30,484" stroke="#2b2f3a" stroke-width="0.7" fill="none" />
<circle cx="267.40" cy="434.70" r="2.20" stroke="#2b2f3a" stroke-width="0.5" fill="#2b2f3a" />
<circle cx="271.70" cy="434.70" r="1.50" stroke="#2b2f3a" stroke-width="0.8" fill="#fff" />
<circle cx="267.40" cy="479.30" r="2.20" stroke="#2b2f3a" stroke-width="0.5" fill="#2b2f3a" />
<circle cx="271.70" cy="479.30" r="1.50" stroke="#2b2f3a" stroke-width="0.8" fill="#fff" />
<line x1="385.30" y1="428.30" x2="352.00" y2="428.30" stroke="#2b2f3a" stroke-width="1.3" />
<line x1="385.30" y1="485.70" x2="352.00" y2="485.70" stroke="#2b2f3a" stroke-width="1.3" />
<rect x="380.40" y="430.40" width="4.70" height="53.20" rx="2.3" stroke="#2b2f3a" stroke-width="0.8" fill="none" />
<path d="M383.70,428.30 L382.80,426.20 L381.90,428.30 Z" stroke="#2b2f3a" stroke-width="0.7" fill="#2b2f3a" />
<path d="M383.70,485.70 L382.80,487.80 L381.90,485.70 Z" stroke="#2b2f3a" stroke-width="0.7" fill="#2b2f3a" />
<path d="M358.40,428.30 L357.50,426.20 L356.60,428.30 Z" stroke="#2b2f3a" stroke-width="0.7" fill="#2b2f3a" />
<path d="M358.40,485.70 L357.50,487.80 L356.60,485.70 Z" stroke="#2b2f3a" stroke-width="0.7" fill="#2b2f3a" />
<line x1="365.10" y1="428.30" x2="365.10" y2="485.70" stroke="#40454f" stroke-width="0.6" />
<line x1="363.70" y1="428.30" x2="363.70" y2="485.70" stroke="#40454f" stroke-width="0.6" />
<line x1="361.30" y1="428.30" x2="361.30" y2="485.70" stroke="#2b2f3a" stroke-width="0.9" />
<line x1="359.40" y1="428.30" x2="359.40" y2="485.70" stroke="#2b2f3a" stroke-width="0.9" />
<line x1="357.10" y1="428.30" x2="357.10" y2="485.70" stroke="#40454f" stroke-width="0.6" />
<line x1="354.90" y1="428.30" x2="354.90" y2="485.70" stroke="#2b2f3a" stroke-width="1.0" />
<path d="M353.40,430 Q354.70,457 353.40,484" stroke="#2b2f3a" stroke-width="0.7" fill="none" />
<circle cx="366.30" cy="434.70" r="2.20" stroke="#2b2f3a" stroke-width="0.5" fill="#2b2f3a" />
<circle cx="362.00" cy="434.70" r="1.50" stroke="#2b2f3a" stroke-width="0.8" fill="#fff" />
<circle cx="366.30" cy="479.30" r="2.20" stroke="#2b2f3a" stroke-width="0.5" fill="#2b2f3a" />
<circle cx="362.00" cy="479.30" r="1.50" stroke="#2b2f3a" stroke-width="0.8" fill="#fff" />
<rect x="303.30" y="504.20" width="38.10" height="14.80" rx="0" stroke="#2b2f3a" stroke-width="1.3" fill="#fff" />
<rect x="303.80" y="499.70" width="37.00" height="4.50" rx="0" stroke="#2b2f3a" stroke-width="0.8" fill="none" />
<line x1="310.50" y1="499.70" x2="310.50" y2="504.20" stroke="#2b2f3a" stroke-width="1.2" />
<path d="M297,498.2 Q305,495 312,498.5 M332,498.5 Q339,495 347,498.2" stroke="#2b2f3a" stroke-width="1.2" fill="none" />
<line x1="312.00" y1="498.30" x2="318.00" y2="498.30" stroke="#2b2f3a" stroke-width="1.0" />
<line x1="320.50" y1="498.30" x2="324.50" y2="498.30" stroke="#2b2f3a" stroke-width="1.0" />
<line x1="326.50" y1="498.30" x2="332.00" y2="498.30" stroke="#2b2f3a" stroke-width="1.0" />
<line x1="344.30" y1="497.00" x2="344.30" y2="505.00" stroke="#2b2f3a" stroke-width="0.9" />
<line x1="0.00" y1="0.00" x2="0.00" y2="0.00" stroke="#40454f" stroke-width="0.8" />
<rect x="605.60" y="364.40" width="141.10" height="41.20" rx="0" stroke="#40454f" stroke-width="1.0" fill="none" />
<rect x="605.60" y="405.60" width="141.10" height="102.70" rx="0" stroke="#40454f" stroke-width="1.0" fill="none" />
<rect x="746.70" y="406.30" width="2.60" height="69.90" rx="0" stroke="#40454f" stroke-width="0.85" fill="none" />
<line x1="748.00" y1="444.00" x2="748.00" y2="462.00" stroke="#2b2f3a" stroke-width="1.0" />
<rect x="605.60" y="508.30" width="26.90" height="19.20" rx="0" stroke="#40454f" stroke-width="1.0" fill="none" />
<line x1="605.60" y1="514.70" x2="632.50" y2="514.70" stroke="#40454f" stroke-width="0.85" />
<rect x="720.50" y="508.30" width="26.20" height="19.20" rx="0" stroke="#40454f" stroke-width="1.0" fill="none" />
<line x1="720.50" y1="514.70" x2="746.70" y2="514.70" stroke="#40454f" stroke-width="0.85" />
<circle cx="617.60" cy="415.70" r="4.80" stroke="#2b2f3a" stroke-width="0.9" fill="none" />
<line x1="611.20" y1="415.70" x2="624.00" y2="415.70" stroke="#2b2f3a" stroke-width="0.7200000000000001" />
<line x1="617.60" y1="409.30" x2="617.60" y2="422.10" stroke="#2b2f3a" stroke-width="0.7200000000000001" />
<circle cx="617.60" cy="498.20" r="4.80" stroke="#2b2f3a" stroke-width="0.9" fill="none" />
<line x1="611.20" y1="498.20" x2="624.00" y2="498.20" stroke="#2b2f3a" stroke-width="0.7200000000000001" />
<line x1="617.60" y1="491.80" x2="617.60" y2="504.60" stroke="#2b2f3a" stroke-width="0.7200000000000001" />
<circle cx="734.70" cy="416.00" r="4.80" stroke="#e8362b" stroke-width="0.9" fill="none" />
<line x1="727.70" y1="416.00" x2="741.70" y2="416.00" stroke="#e8362b" stroke-width="0.7200000000000001" />
<line x1="734.70" y1="409.00" x2="734.70" y2="423.00" stroke="#e8362b" stroke-width="0.7200000000000001" />
<circle cx="734.70" cy="498.20" r="4.80" stroke="#e8362b" stroke-width="0.9" fill="none" />
<line x1="727.70" y1="498.20" x2="741.70" y2="498.20" stroke="#e8362b" stroke-width="0.7200000000000001" />
<line x1="734.70" y1="491.20" x2="734.70" y2="505.20" stroke="#e8362b" stroke-width="0.7200000000000001" />
<rect x="625.00" y="416.20" width="4.70" height="21.80" rx="0" stroke="#2b2f3a" stroke-width="1.0" fill="none" />
<rect x="625.00" y="476.20" width="4.70" height="21.80" rx="0" stroke="#2b2f3a" stroke-width="1.0" fill="none" />
<rect x="723.10" y="416.20" width="4.70" height="21.80" rx="0" stroke="#2b2f3a" stroke-width="1.0" fill="none" />
<rect x="723.10" y="476.20" width="4.70" height="21.80" rx="0" stroke="#2b2f3a" stroke-width="1.0" fill="none" />
<rect x="653.50" y="443.70" width="46.10" height="26.20" rx="4.5" stroke="#2b2f3a" stroke-width="0.9" fill="none" />
<line x1="676.10" y1="399.20" x2="676.10" y2="507.60" stroke="#e8362b" stroke-width="1.0" stroke-dasharray="11.8 2.3 2.5 2.45"/>
<rect x="581.10" y="426.10" width="22.90" height="61.20" rx="0" stroke="#2b2f3a" stroke-width="0.9" fill="#fff" />
<line x1="581.10" y1="431.60" x2="604.00" y2="431.60" stroke="#2b2f3a" stroke-width="1.1" />
<line x1="581.10" y1="480.90" x2="604.00" y2="480.90" stroke="#2b2f3a" stroke-width="1.1" />
<rect x="557.90" y="430.10" width="15.00" height="52.20" rx="0.8" stroke="#2b2f3a" stroke-width="0.9" fill="#fff" />
<line x1="558.90" y1="430.10" x2="558.90" y2="482.30" stroke="#2b2f3a" stroke-width="0.6" />
<line x1="560.80" y1="430.10" x2="560.80" y2="482.30" stroke="#2b2f3a" stroke-width="0.6" />
<line x1="563.60" y1="430.10" x2="563.60" y2="482.30" stroke="#2b2f3a" stroke-width="0.6" />
<line x1="564.40" y1="430.10" x2="564.40" y2="482.30" stroke="#2b2f3a" stroke-width="0.6" />
<line x1="567.20" y1="430.10" x2="567.20" y2="482.30" stroke="#2b2f3a" stroke-width="0.6" />
<line x1="569.30" y1="430.10" x2="569.30" y2="482.30" stroke="#2b2f3a" stroke-width="0.6" />
<line x1="570.70" y1="430.10" x2="570.70" y2="482.30" stroke="#2b2f3a" stroke-width="0.6" />
<rect x="559.0" y="429.4" width="1.4" height="1.6" fill="#2b2f3a"/><rect x="559.0" y="481.5" width="1.4" height="1.6" fill="#2b2f3a"/>
<rect x="564.0" y="429.4" width="1.4" height="1.6" fill="#2b2f3a"/><rect x="564.0" y="481.5" width="1.4" height="1.6" fill="#2b2f3a"/>
<rect x="570.0" y="429.4" width="1.4" height="1.6" fill="#2b2f3a"/><rect x="570.0" y="481.5" width="1.4" height="1.6" fill="#2b2f3a"/>
<rect x="572.90" y="432.30" width="3.60" height="48.60" rx="0" stroke="#2b2f3a" stroke-width="0.6" fill="#7d8089" />
<line x1="578.20" y1="432.30" x2="578.20" y2="480.90" stroke="#2b2f3a" stroke-width="0.8" />
<line x1="580.00" y1="432.30" x2="580.00" y2="480.90" stroke="#2b2f3a" stroke-width="0.7" />
<rect x="573.50" y="432.00" width="6.70" height="3.20" rx="0" stroke="#2b2f3a" stroke-width="0.4" fill="#2b2f3a" />
<rect x="573.50" y="477.80" width="6.70" height="3.60" rx="0" stroke="#2b2f3a" stroke-width="0.4" fill="#2b2f3a" />
<rect x="574" y="439.5" width="2" height="2" fill="#2b2f3a"/><rect x="577.6" y="439.5" width="2" height="2" fill="#2b2f3a"/>
<rect x="574" y="471.5" width="2" height="2" fill="#2b2f3a"/><rect x="577.6" y="471.5" width="2" height="2" fill="#2b2f3a"/>
<path d="M577.00,456.60 L578.80,454.40 L580.60,456.60 L578.80,458.80 Z" stroke="#2b2f3a" stroke-width="0.5" fill="#2b2f3a" />
<line x1="573.00" y1="455.60" x2="581.00" y2="455.60" stroke="#2b2f3a" stroke-width="0.6" />
<line x1="573.00" y1="457.80" x2="581.00" y2="457.80" stroke="#2b2f3a" stroke-width="0.6" />
<circle cx="571.40" cy="485.10" r="1.30" stroke="#2b2f3a" stroke-width="0.9" fill="none" />
<circle cx="573.60" cy="483.60" r="0.90" stroke="#2b2f3a" stroke-width="0.7" fill="none" />
<rect x="585.8" y="432.7" width="2.4" height="1" fill="#2b2f3a"/>
<rect x="597.8" y="432.7" width="2.4" height="1" fill="#2b2f3a"/>
<rect x="585.8" y="478.9" width="2.4" height="1" fill="#2b2f3a"/>
<rect x="597.8" y="478.9" width="2.4" height="1" fill="#2b2f3a"/>
<rect x="604.00" y="431.60" width="2.40" height="49.30" rx="0" stroke="#2b2f3a" stroke-width="0.5" fill="#6f737c" />
<path d="M606.4,435.1 H610.7 L611.7,436.1 V477 L610.7,478 H606.4" stroke="#2b2f3a" stroke-width="0.8" fill="#fff" />
<rect x="602.60" y="490.10" width="3.10" height="15.00" rx="0" stroke="#40454f" stroke-width="0.9" fill="#fff" />
<rect x="595.40" y="495.10" width="7.20" height="5.00" rx="1" stroke="#2b2f3a" stroke-width="0.8" fill="none" />
<line x1="597.30" y1="495.10" x2="597.30" y2="500.10" stroke="#2b2f3a" stroke-width="0.6" />
<path d="M286.90,213.70 L286.90,173.80 L301.30,173.80" stroke="#40454f" stroke-width="0.9" fill="none" />
<line x1="285.60" y1="197.60" x2="285.60" y2="213.70" stroke="#40454f" stroke-width="0.7" />
<path d="M344.60,173.80 L349.60,173.80 L349.60,213.70" stroke="#40454f" stroke-width="0.9" fill="none" />
<line x1="351.10" y1="197.60" x2="351.10" y2="213.70" stroke="#40454f" stroke-width="0.7" />
<circle cx="308.95" cy="170.00" r="7.50" stroke="#2b2f3a" stroke-width="0.8" fill="#fff" />
<circle cx="308.95" cy="170.00" r="4.50" stroke="#2b2f3a" stroke-width="1.5" fill="none" />
<circle cx="334.00" cy="170.00" r="7.50" stroke="#2b2f3a" stroke-width="0.8" fill="#fff" />
<circle cx="334.00" cy="170.00" r="4.50" stroke="#2b2f3a" stroke-width="1.5" fill="none" />
<rect x="313.7" y="166.2" width="1.3" height="1.5" fill="#2b2f3a"/><rect x="340.4" y="170.8" width="1.3" height="1.5" fill="#2b2f3a"/>
<circle cx="310.50" cy="182.30" r="2.20" stroke="#2b2f3a" stroke-width="1.0" fill="none" />
<circle cx="332.00" cy="182.30" r="2.20" stroke="#2b2f3a" stroke-width="1.0" fill="none" />
<rect x="304.40" y="190.60" width="35.90" height="11.60" rx="5.8" stroke="#2b2f3a" stroke-width="0.8" fill="none" />
<rect x="308.10" y="191.70" width="4.80" height="4.90" rx="1.6" stroke="#2b2f3a" stroke-width="1.5" fill="#fff" />
<circle cx="310.50" cy="194.10" r="0.80" stroke="#2b2f3a" stroke-width="0.5" fill="none" />
<rect x="315.20" y="191.70" width="4.80" height="4.90" rx="1.6" stroke="#2b2f3a" stroke-width="1.5" fill="#fff" />
<circle cx="317.60" cy="194.10" r="0.80" stroke="#2b2f3a" stroke-width="0.5" fill="none" />
<rect x="322.30" y="191.70" width="4.80" height="4.90" rx="1.6" stroke="#2b2f3a" stroke-width="1.5" fill="#fff" />
<circle cx="324.70" cy="194.10" r="0.80" stroke="#2b2f3a" stroke-width="0.5" fill="none" />
<rect x="329.60" y="191.70" width="4.80" height="4.90" rx="1.6" stroke="#2b2f3a" stroke-width="1.5" fill="#fff" />
<circle cx="332.00" cy="194.10" r="0.80" stroke="#2b2f3a" stroke-width="0.5" fill="none" />
<path d="M306.2,197.5 Q308.5,200.6 311.5,199 T317.6,199 T324.7,199 T332,199 T338.5,197.5" stroke="#2b2f3a" stroke-width="1.4" fill="none" />
<line x1="307.50" y1="201.30" x2="337.50" y2="201.30" stroke="#2b2f3a" stroke-width="1.0" />
<line x1="305.60" y1="193.00" x2="308.00" y2="191.60" stroke="#2b2f3a" stroke-width="1.1" />
<line x1="334.50" y1="191.40" x2="339.00" y2="193.40" stroke="#2b2f3a" stroke-width="1.1" />
<rect x="308.60" y="209.30" width="39.00" height="14.90" rx="1.2" stroke="#2b2f3a" stroke-width="1.1" fill="#fff" />
<line x1="308.60" y1="218.10" x2="347.60" y2="218.10" stroke="#2b2f3a" stroke-width="1.3" />
<rect x="323.80" y="224.20" width="8.50" height="8.50" rx="0" stroke="#2b2f3a" stroke-width="1.0" fill="none" />
<path d="M308.6,213.7 H286.5 V284 H350.4 V213.7 H347.6" stroke="#2b2f3a" stroke-width="1.3" fill="none" />
<line x1="286.00" y1="213.70" x2="308.60" y2="213.70" stroke="#2b2f3a" stroke-width="1.9" />
<line x1="286.30" y1="213.70" x2="286.30" y2="284.00" stroke="#2b2f3a" stroke-width="1.6" />
<circle cx="296.10" cy="223.60" r="2.20" stroke="#2b2f3a" stroke-width="1.0" fill="none" />
<circle cx="296.10" cy="231.40" r="2.20" stroke="#2b2f3a" stroke-width="1.0" fill="none" />
<circle cx="296.10" cy="239.10" r="2.20" stroke="#2b2f3a" stroke-width="1.0" fill="none" />
<rect x="289.2" y="215.8" width="1.4" height="1.4" fill="#2b2f3a"/>
<rect x="290.8" y="212.2" width="1.3" height="1.3" fill="#2b2f3a"/>
<rect x="284.00" y="284.30" width="69.00" height="2.00" rx="1" stroke="#40454f" stroke-width="0.7" fill="none" />
<rect x="285.50" y="284.50" width="14.00" height="1.80" rx="0" stroke="#2b2f3a" stroke-width="0.6" fill="#70747c" />
<rect x="339.50" y="284.50" width="12.50" height="1.80" rx="0" stroke="#2b2f3a" stroke-width="0.6" fill="#70747c" />
<path d="M285.90,227 H279.10 L271.60,212.4 C266.00,212.6 260.00,214.6 254.90,217.9 A2,2 0 0 1 252.10,214 C258.00,205.8 266.00,200.2 273.60,198.5 L284.50,197.5 Q285.90,197.5 285.90,199 Z" stroke="#2b2f3a" stroke-width="0.9" fill="#fff" />
<rect x="274.10" y="192.40" width="5.60" height="5.60" rx="0" stroke="#2b2f3a" stroke-width="0.9" fill="#fff" />
<circle cx="253.70" cy="215.90" r="1.70" stroke="#2b2f3a" stroke-width="0.6" fill="#2b2f3a" />
<circle cx="271.70" cy="202.00" r="1.50" stroke="#2b2f3a" stroke-width="0.6" fill="#2b2f3a" />
<circle cx="261.80" cy="211.00" r="0.70" stroke="#2b2f3a" stroke-width="0.4" fill="#2b2f3a" />
<path d="M350.80,227 H357.60 L365.10,212.4 C370.70,212.6 376.70,214.6 381.80,217.9 A2,2 0 0 0 384.60,214 C378.70,205.8 370.70,200.2 363.10,198.5 L352.20,197.5 Q350.80,197.5 350.80,199 Z" stroke="#2b2f3a" stroke-width="0.9" fill="#fff" />
<rect x="357.00" y="192.40" width="5.60" height="5.60" rx="0" stroke="#2b2f3a" stroke-width="0.9" fill="#fff" />
<circle cx="383.00" cy="215.90" r="1.70" stroke="#2b2f3a" stroke-width="0.6" fill="#2b2f3a" />
<circle cx="365.00" cy="202.00" r="1.50" stroke="#2b2f3a" stroke-width="0.6" fill="#2b2f3a" />
<circle cx="374.90" cy="211.00" r="0.70" stroke="#2b2f3a" stroke-width="0.4" fill="#2b2f3a" />
<rect x="613.50" y="27.60" width="140.70" height="259.30" rx="0" stroke="#5e626c" stroke-width="1.25" fill="none" />
<line x1="613.50" y1="30.50" x2="754.20" y2="30.50" stroke="#5e626c" stroke-width="1.0" />
<line x1="636.90" y1="30.50" x2="636.90" y2="261.60" stroke="#5e626c" stroke-width="1.255" />
<line x1="640.00" y1="30.50" x2="640.00" y2="261.60" stroke="#5e626c" stroke-width="1.255" />
<line x1="727.40" y1="30.50" x2="727.40" y2="261.60" stroke="#5e626c" stroke-width="1.255" />
<line x1="730.50" y1="30.50" x2="730.50" y2="261.60" stroke="#5e626c" stroke-width="1.255" />
<rect x="632.40" y="8.70" width="5.00" height="18.90" rx="0" stroke="#5e626c" stroke-width="1.255" fill="none" />
<line x1="632.40" y1="13.00" x2="637.40" y2="13.00" stroke="#5e626c" stroke-width="0.85" />
<line x1="632.40" y1="17.00" x2="637.40" y2="17.00" stroke="#5e626c" stroke-width="0.85" />
<line x1="631.40" y1="20.50" x2="638.40" y2="20.50" stroke="#5e626c" stroke-width="1.255" />
<line x1="631.90" y1="25.50" x2="637.90" y2="25.50" stroke="#5e626c" stroke-width="0.85" />
<rect x="730.40" y="8.70" width="5.00" height="18.90" rx="0" stroke="#5e626c" stroke-width="1.255" fill="none" />
<line x1="730.40" y1="13.00" x2="735.40" y2="13.00" stroke="#5e626c" stroke-width="0.85" />
<line x1="730.40" y1="17.00" x2="735.40" y2="17.00" stroke="#5e626c" stroke-width="0.85" />
<line x1="729.40" y1="20.50" x2="736.40" y2="20.50" stroke="#5e626c" stroke-width="1.255" />
<line x1="729.90" y1="25.50" x2="735.90" y2="25.50" stroke="#5e626c" stroke-width="0.85" />
<rect x="610.30" y="68.50" width="2.70" height="14.50" rx="0" stroke="#5e626c" stroke-width="1.255" fill="none" />
<rect x="603.30" y="73.50" width="7.00" height="4.80" rx="0" stroke="#5e626c" stroke-width="1.255" fill="none" />
<line x1="605.50" y1="73.50" x2="605.50" y2="78.30" stroke="#5e626c" stroke-width="0.85" />
<line x1="640.00" y1="107.80" x2="727.40" y2="107.80" stroke="#5e626c" stroke-width="1.255" />
<line x1="640.00" y1="110.10" x2="727.40" y2="110.10" stroke="#5e626c" stroke-width="1.255" />
<rect x="671.10" y="110.10" width="24.50" height="6.40" rx="0" stroke="#5e626c" stroke-width="1.255" fill="none" />
<path d="M641.20,120.30 L649.50,120.30 L649.50,116.50 L718.50,116.50 L718.50,120.30 L726.30,120.30" stroke="#5e626c" stroke-width="1.255" fill="none" />
<line x1="657.20" y1="116.50" x2="657.20" y2="120.30" stroke="#5e626c" stroke-width="1.0" />
<line x1="710.60" y1="116.50" x2="710.60" y2="120.30" stroke="#5e626c" stroke-width="1.0" />
<line x1="649.50" y1="120.30" x2="657.20" y2="120.30" stroke="#5e626c" stroke-width="1.0" />
<line x1="710.60" y1="120.30" x2="718.50" y2="120.30" stroke="#5e626c" stroke-width="1.0" />
<rect x="641.20" y="120.30" width="16.00" height="61.10" rx="0" stroke="#5e626c" stroke-width="1.255" fill="none" />
<rect x="710.60" y="120.30" width="15.70" height="61.10" rx="0" stroke="#5e626c" stroke-width="1.255" fill="none" />
<line x1="642.70" y1="120.30" x2="642.70" y2="181.40" stroke="#5e626c" stroke-width="0.85" />
<line x1="724.90" y1="120.30" x2="724.90" y2="181.40" stroke="#5e626c" stroke-width="0.85" />
<line x1="641.20" y1="181.40" x2="726.30" y2="181.40" stroke="#5e626c" stroke-width="1.25" />
<circle cx="645.40" cy="126.60" r="1.60" stroke="#d93a30" stroke-width="0.8" fill="#f2746b" />
<circle cx="722.00" cy="126.60" r="1.60" stroke="#d93a30" stroke-width="0.8" fill="#f2746b" />
<circle cx="645.40" cy="139.00" r="1.60" stroke="#d93a30" stroke-width="0.8" fill="#f2746b" />
<circle cx="722.00" cy="139.00" r="1.60" stroke="#d93a30" stroke-width="0.8" fill="#f2746b" />
<circle cx="645.40" cy="151.60" r="1.60" stroke="#d93a30" stroke-width="0.8" fill="#f2746b" />
<circle cx="722.00" cy="151.60" r="1.60" stroke="#d93a30" stroke-width="0.8" fill="#f2746b" />
<circle cx="645.40" cy="164.30" r="1.60" stroke="#d93a30" stroke-width="0.8" fill="#f2746b" />
<circle cx="722.00" cy="164.30" r="1.60" stroke="#d93a30" stroke-width="0.8" fill="#f2746b" />
<circle cx="645.40" cy="177.20" r="1.60" stroke="#d93a30" stroke-width="0.8" fill="#f2746b" />
<circle cx="722.00" cy="177.20" r="1.60" stroke="#d93a30" stroke-width="0.8" fill="#f2746b" />
<rect x="652.50" y="181.40" width="62.80" height="8.90" rx="0" stroke="#5e626c" stroke-width="1.255" fill="none" />
<rect x="658.80" y="185.00" width="3.00" height="1.50" rx="0" stroke="#e8362b" stroke-width="0.6" fill="none" />
<line x1="660.30" y1="186.50" x2="660.30" y2="189.80" stroke="#e8362b" stroke-width="1.2" />
<rect x="670.30" y="185.00" width="3.00" height="1.50" rx="0" stroke="#e8362b" stroke-width="0.6" fill="none" />
<line x1="671.80" y1="186.50" x2="671.80" y2="189.80" stroke="#e8362b" stroke-width="1.2" />
<rect x="693.70" y="185.00" width="3.00" height="1.50" rx="0" stroke="#e8362b" stroke-width="0.6" fill="none" />
<line x1="695.20" y1="186.50" x2="695.20" y2="189.80" stroke="#e8362b" stroke-width="1.2" />
<rect x="705.50" y="185.00" width="3.00" height="1.50" rx="0" stroke="#e8362b" stroke-width="0.6" fill="none" />
<line x1="707.00" y1="186.50" x2="707.00" y2="189.80" stroke="#e8362b" stroke-width="1.2" />
<rect x="619.20" y="182.60" width="13.10" height="12.90" rx="2" stroke="#5e626c" stroke-width="1.25" fill="none" />
<circle cx="625.70" cy="187.80" r="2.50" stroke="#5e626c" stroke-width="1.25" fill="none" />
<rect x="735.00" y="182.60" width="13.10" height="12.90" rx="2" stroke="#5e626c" stroke-width="1.25" fill="none" />
<circle cx="741.50" cy="187.80" r="2.50" stroke="#5e626c" stroke-width="1.25" fill="none" />
<path d="M640.00,202.40 L647.90,202.40 L647.90,209.50 L645.80,211.50 L645.80,218.40 L641.00,218.40" stroke="#5e626c" stroke-width="1.255" fill="none" />
<path d="M727.40,202.40 L719.50,202.40 L719.50,209.50 L721.60,211.50 L721.60,218.40 L726.40,218.40" stroke="#5e626c" stroke-width="1.255" fill="none" />
<rect x="650.40" y="221.10" width="66.40" height="15.40" rx="0" stroke="#5e626c" stroke-width="1.255" fill="none" />
<rect x="658.90" y="221.60" width="2.80" height="1.40" rx="0" stroke="#e8362b" stroke-width="0.6" fill="none" />
<line x1="660.30" y1="223.00" x2="660.30" y2="226.00" stroke="#e8362b" stroke-width="1.2" />
<rect x="664.80" y="221.60" width="2.80" height="1.40" rx="0" stroke="#e8362b" stroke-width="0.6" fill="none" />
<line x1="666.20" y1="223.00" x2="666.20" y2="226.00" stroke="#e8362b" stroke-width="1.2" />
<rect x="670.80" y="221.60" width="2.80" height="1.40" rx="0" stroke="#e8362b" stroke-width="0.6" fill="none" />
<line x1="672.20" y1="223.00" x2="672.20" y2="226.00" stroke="#e8362b" stroke-width="1.2" />
<rect x="694.20" y="221.60" width="2.80" height="1.40" rx="0" stroke="#e8362b" stroke-width="0.6" fill="none" />
<line x1="695.60" y1="223.00" x2="695.60" y2="226.00" stroke="#e8362b" stroke-width="1.2" />
<rect x="700.00" y="221.60" width="2.80" height="1.40" rx="0" stroke="#e8362b" stroke-width="0.6" fill="none" />
<line x1="701.40" y1="223.00" x2="701.40" y2="226.00" stroke="#e8362b" stroke-width="1.2" />
<rect x="706.10" y="221.60" width="2.80" height="1.40" rx="0" stroke="#e8362b" stroke-width="0.6" fill="none" />
<line x1="707.50" y1="223.00" x2="707.50" y2="226.00" stroke="#e8362b" stroke-width="1.2" />
<rect x="643.30" y="237.10" width="79.70" height="3.10" rx="1" stroke="#5e626c" stroke-width="1.0" fill="none" />
<line x1="640.00" y1="241.90" x2="727.40" y2="241.90" stroke="#5e626c" stroke-width="1.255" />
<line x1="640.00" y1="251.60" x2="727.40" y2="251.60" stroke="#5e626c" stroke-width="1.255" />
<rect x="613.50" y="261.60" width="26.10" height="25.30" rx="0" stroke="#5e626c" stroke-width="1.25" fill="none" />
<line x1="613.50" y1="263.70" x2="639.60" y2="263.70" stroke="#5e626c" stroke-width="1.0" />
<line x1="615.00" y1="263.70" x2="615.00" y2="284.40" stroke="#5e626c" stroke-width="0.5" />
<line x1="638.10" y1="263.70" x2="638.10" y2="284.40" stroke="#5e626c" stroke-width="0.5" />
<rect x="727.80" y="261.60" width="26.40" height="25.30" rx="0" stroke="#5e626c" stroke-width="1.25" fill="none" />
<line x1="727.80" y1="263.70" x2="754.20" y2="263.70" stroke="#5e626c" stroke-width="1.0" />
<line x1="729.30" y1="263.70" x2="729.30" y2="284.40" stroke="#5e626c" stroke-width="0.5" />
<line x1="752.70" y1="263.70" x2="752.70" y2="284.40" stroke="#5e626c" stroke-width="0.5" />
<circle cx="626.00" cy="273.90" r="4.90" stroke="#2b2f3a" stroke-width="0.9" fill="none" />
<line x1="619.70" y1="273.90" x2="632.30" y2="273.90" stroke="#2b2f3a" stroke-width="0.7200000000000001" />
<line x1="626.00" y1="267.60" x2="626.00" y2="280.20" stroke="#2b2f3a" stroke-width="0.7200000000000001" />
<circle cx="741.50" cy="273.90" r="4.90" stroke="#2b2f3a" stroke-width="0.9" fill="none" />
<line x1="735.20" y1="273.90" x2="747.80" y2="273.90" stroke="#2b2f3a" stroke-width="0.7200000000000001" />
<line x1="741.50" y1="267.60" x2="741.50" y2="280.20" stroke="#2b2f3a" stroke-width="0.7200000000000001" />
<line x1="639.60" y1="284.40" x2="727.80" y2="284.40" stroke="#5e626c" stroke-width="1.0" />
<line x1="613.50" y1="287.20" x2="702.00" y2="287.20" stroke="#2b2f3a" stroke-width="1.5" />
<line x1="702.00" y1="287.20" x2="754.20" y2="287.20" stroke="#444852" stroke-width="1.2" />
<line x1="683.60" y1="24.50" x2="683.60" y2="288.30" stroke="#e8362b" stroke-width="1.0" stroke-dasharray="21 3.7 4.7 3.4" stroke-dashoffset="9.8"/>
<rect x="609.60" y="208.20" width="3.60" height="35.70" rx="0" stroke="#5a5f69" stroke-width="0.6" fill="#8e9199" />
<rect x="609.20" y="208.20" width="3.20" height="2.40" rx="0" stroke="#2b2f3a" stroke-width="0.5" fill="#2b2f3a" />
<rect x="610.60" y="211.00" width="1.40" height="3.90" rx="0" stroke="#fff" stroke-width="0.3" fill="#fff" />
<circle cx="612.40" cy="218.20" r="0.90" stroke="#2b2f3a" stroke-width="0.6" fill="#fff" />
<line x1="609.40" y1="225.00" x2="609.40" y2="231.00" stroke="#2b2f3a" stroke-width="1.2" />
<rect x="587.20" y="201.50" width="21.70" height="29.10" rx="1.2" stroke="#2b2f3a" stroke-width="1.0" fill="#fff" />
<rect x="587.60" y="201.70" width="20.90" height="2.50" rx="0" stroke="#2b2f3a" stroke-width="0.4" fill="#7a7e88" />
<line x1="588.00" y1="201.50" x2="608.30" y2="201.50" stroke="#2b2f3a" stroke-width="1.3" />
<circle cx="595.10" cy="199.40" r="1.50" stroke="#2b2f3a" stroke-width="1.0" fill="#fff" />
<path d="M570.4,215.3 C574,212.3 578,210.4 581,210.1 L587.2,209.6 V218.2 C583,218.3 581,218.1 579.1,217.5 C576,216.6 573,216.2 570.4,215.3 Z" stroke="#2b2f3a" stroke-width="0.9" fill="#fff" />
<circle cx="570.70" cy="215.40" r="1.00" stroke="#2b2f3a" stroke-width="0.5" fill="#2b2f3a" />
<path d="M581.6,210.2 V207.8 A1.9,1.9 0 0 1 585.4,207.8 V209.8" stroke="#2b2f3a" stroke-width="1.1" fill="none" />
<circle cx="579.10" cy="211.60" r="0.70" stroke="#2b2f3a" stroke-width="0.4" fill="#2b2f3a" />
<circle cx="582.60" cy="210.80" r="0.70" stroke="#2b2f3a" stroke-width="0.4" fill="#2b2f3a" />
<line x1="579.60" y1="215.10" x2="581.60" y2="215.10" stroke="#2b2f3a" stroke-width="0.8" />
<line x1="586.60" y1="206.50" x2="586.60" y2="222.50" stroke="#2b2f3a" stroke-width="1.0" />
<path d="M144.0,186.5 L150,211.7 C152.5,222 153.6,230 155.8,237.5 C160,252 176,271.2 199.5,271.2 C224,271.2 238,247 245.1,229.6 L252.3,215.6" stroke="#86c540" stroke-width="1.0" fill="none" />
<path d="M384.0,215.8 C401,250 433,278.5 478,278.5 C523,278.5 553,248 570.2,215.8" stroke="#86c540" stroke-width="1.0" fill="none" />
<rect x="179.60" y="280.20" width="37.70" height="6.90" rx="0" stroke="#40454f" stroke-width="0.8" fill="#fff" />
<line x1="22.60" y1="290.60" x2="22.60" y2="318.70" stroke="#7fcbe0" stroke-width="0.9" />
<line x1="97.10" y1="289.50" x2="97.10" y2="310.20" stroke="#7fcbe0" stroke-width="0.9" />
<line x1="611.90" y1="245.30" x2="611.90" y2="318.50" stroke="#7fcbe0" stroke-width="1.0" />
<line x1="22.60" y1="312.90" x2="611.90" y2="312.90" stroke="#7fcbe0" stroke-width="0.9" />
<path d="M22.60,312.90 L34.20,310.90 L34.20,314.90 Z" stroke="#7fcbe0" stroke-width="0.7" fill="#fff" />
<path d="M97.10,312.90 L85.50,310.90 L85.50,314.90 Z" stroke="#7fcbe0" stroke-width="0.7" fill="#fff" />
<path d="M97.10,312.90 L108.70,310.90 L108.70,314.90 Z" stroke="#7fcbe0" stroke-width="0.7" fill="#fff" />
<path d="M611.50,312.90 L599.90,310.90 L599.90,314.90 Z" stroke="#7fcbe0" stroke-width="0.7" fill="#fff" />
<text transform="translate(282.81,33.04) scale(0.775,1)" font-family="'Liberation Sans','Noto Sans CJK SC',sans-serif" font-size="15.5" fill="#2b2f3a">送料方向</text>
<line x1="277.10" y1="35.50" x2="334.70" y2="35.50" stroke="#6b6f7a" stroke-width="1.8" />
<path d="M334.70,31.90 L376.70,35.50 L334.70,39.60 Z" stroke="#2b2f3a" stroke-width="1.0" fill="#fff" />
<text transform="translate(81.12,87.39) scale(0.742,1)" font-family="'Liberation Sans','Noto Sans CJK SC',sans-serif" font-size="16.03" fill="#2b2f3a">开卷机</text>
<text transform="translate(297.88,87.96) scale(0.726,1)" font-family="'Liberation Sans','Noto Sans CJK SC',sans-serif" font-size="16.18" fill="#2b2f3a">整平机</text>
<text transform="translate(667.30,18.74) scale(0.74,1)" font-family="'Liberation Sans','Noto Sans CJK SC',sans-serif" font-size="20.94" fill="#2b2f3a">冲床</text>
<text transform="translate(-0.76,124.38) scale(0.736,1)" font-family="'Liberation Sans','Noto Sans CJK SC',sans-serif" font-size="13.08" fill="#2b2f3a">压料臂</text>
<text transform="translate(18.54,255.01) scale(0.737,1)" font-family="'Liberation Sans','Noto Sans CJK SC',sans-serif" font-size="13.02" fill="#2b2f3a">上料台车</text>
<text transform="translate(235.99,175.64) scale(0.74,1)" font-family="'Liberation Sans','Noto Sans CJK SC',sans-serif" font-size="12.91" fill="#2b2f3a">定宽挡轮</text>
<text transform="translate(367.20,175.64) scale(0.736,1)" font-family="'Liberation Sans','Noto Sans CJK SC',sans-serif" font-size="12.91" fill="#2b2f3a">定宽挡轮</text>
<text transform="translate(301.86,145.88) scale(0.713,1)" font-family="'Liberation Sans','Noto Sans CJK SC',sans-serif" font-size="13.23" fill="#2b2f3a">校平调节</text>
<text transform="translate(561.16,161.73) scale(0.61,1)" font-family="'Liberation Sans','Noto Sans CJK SC',sans-serif" font-size="12.04" fill="#2b2f3a">NCF</text>
<text transform="translate(576.35,162.22) scale(0.731,1)" font-family="'Liberation Sans','Noto Sans CJK SC',sans-serif" font-size="12.59" fill="#2b2f3a">伺服精</text>
<text transform="translate(563.77,179.38) scale(0.759,1)" font-family="'Liberation Sans','Noto Sans CJK SC',sans-serif" font-size="12.71" fill="#2b2f3a">密送料机</text>
<text transform="translate(47.97,309.60) scale(0.917,1)" font-family="'Liberation Sans',sans-serif" font-size="15.68" fill="#58badb">950</text>
<text transform="translate(338.63,310.57) scale(0.8,1)" font-family="'Liberation Sans',sans-serif" font-size="17.75" fill="#7ccbe1">6600</text>
<line x1="29.50" y1="122.30" x2="52.00" y2="129.70" stroke="#74c6dc" stroke-width="0.9" />
<line x1="57.40" y1="254.50" x2="79.80" y2="261.40" stroke="#74c6dc" stroke-width="0.9" />
<line x1="271.00" y1="179.30" x2="276.30" y2="192.20" stroke="#74c6dc" stroke-width="0.9" />
<line x1="319.70" y1="150.30" x2="309.70" y2="169.40" stroke="#74c6dc" stroke-width="0.9" />
<line x1="319.70" y1="150.30" x2="332.60" y2="168.20" stroke="#74c6dc" stroke-width="0.9" />
<line x1="368.80" y1="179.30" x2="361.00" y2="192.20" stroke="#74c6dc" stroke-width="0.9" />
<line x1="1.10" y1="457.00" x2="819.00" y2="457.00" stroke="#e8362b" stroke-width="1.0" stroke-dasharray="12.2 2 2.3 2" stroke-dashoffset="4.8"/>
</svg>
</body></html>
